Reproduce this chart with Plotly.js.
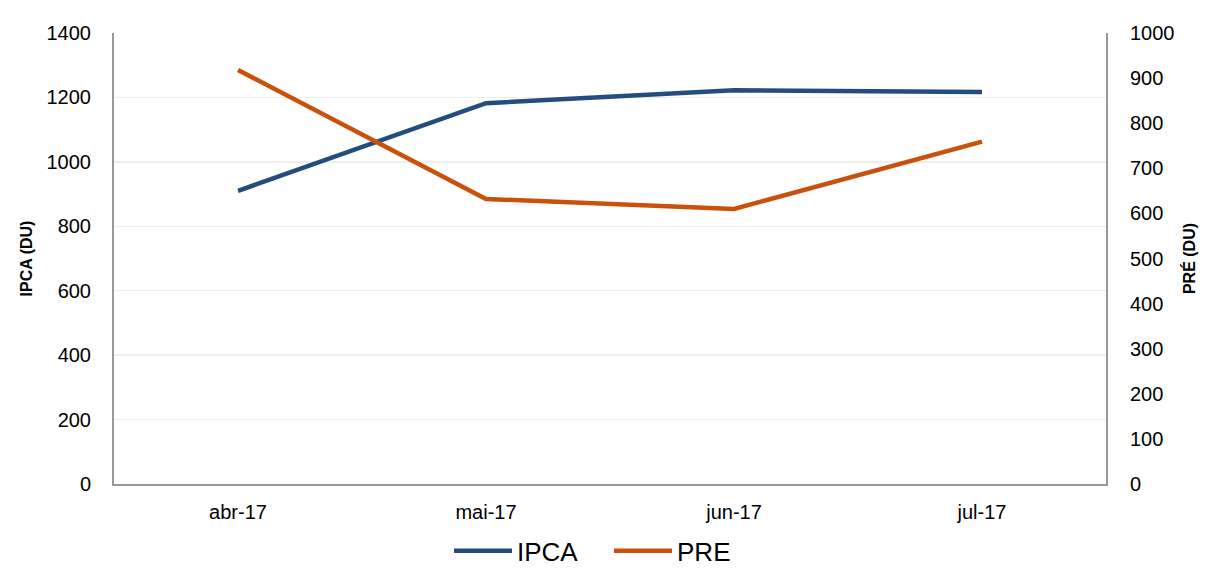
<!DOCTYPE html>
<html>
<head>
<meta charset="utf-8">
<script src="https://cdn.plot.ly/plotly-3.0.1.min.js"></script>
<style>html,body{margin:0;padding:0;background:#fff;}#chart{width:1223px;height:568px;}</style>
</head>
<body>
<div id="chart"></div>
<script>
const categories = ["abr-17", "mai-17", "jun-17", "jul-17"];
const ipca = [910, 1182, 1222, 1217];
const pre = [918, 632, 610, 759];
const leftTicks = [0, 200, 400, 600, 800, 1000, 1200, 1400];
const rightTicks = [0, 100, 200, 300, 400, 500, 600, 700, 800, 900, 1000];

const font = "Liberation Sans, Arial, sans-serif";
const traces = [
  {x: categories, y: ipca, name: "IPCA", type: "scatter", mode: "lines",
   line: {color: "#254C7E", width: 4.5}, yaxis: "y"},
  {x: categories, y: pre, name: "PRE", type: "scatter", mode: "lines",
   line: {color: "#C9510C", width: 4.5}, yaxis: "y2"}
];
const layout = {
  width: 1223, height: 568,
  margin: {l: 114, r: 117, t: 33, b: 84, autoexpand: false},
  paper_bgcolor: "#fff", plot_bgcolor: "#fff",
  font: {family: font, size: 20, color: "#000"},
  showlegend: true,
  legend: {orientation: "h", x: 0.499, xanchor: "center", y: -0.148, yanchor: "middle",
           font: {size: 26, family: font}, itemwidth: 58, entrywidth: 87, entrywidthmode: "pixels",
           traceorder: "normal"},
  xaxis: {type: "category", range: [-0.5, 3.5], showgrid: false, showline: true,
          linecolor: "#999", linewidth: 2, ticks: "", tickfont: {size: 20}, zeroline: false,
          ticklabelstandoff: 9},
  yaxis: {range: [0, 1400], tickvals: leftTicks, showgrid: true, gridcolor: "#EEEEEE",
          gridwidth: 1.5, showline: true, linecolor: "#999", linewidth: 2, zeroline: false,
          ticks: "", ticklabelstandoff: 17, tickfont: {size: 20},
          title: {text: "<b>IPCA (DU)</b>", font: {size: 16}, standoff: 10}},
  yaxis2: {range: [0, 1000], tickvals: rightTicks, overlaying: "y", side: "right",
           showgrid: false, showline: true, linecolor: "#999", linewidth: 2, zeroline: false,
           ticks: "", ticklabelstandoff: 18, tickfont: {size: 20},
           title: {text: "<b>PRÉ (DU)</b>", font: {size: 16}, standoff: 10}}
};
Plotly.newPlot("chart", traces, layout, {displayModeBar: false, staticPlot: true});
</script>
</body>
</html>
